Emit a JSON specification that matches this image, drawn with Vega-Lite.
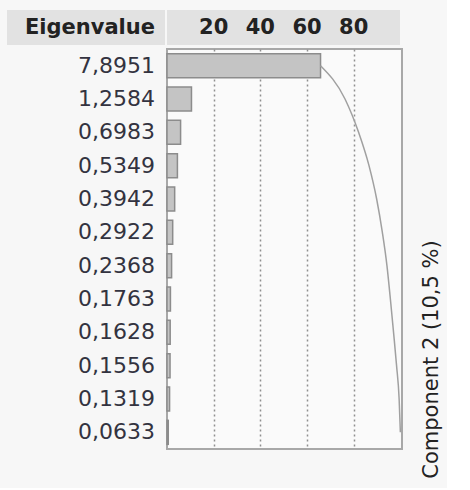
{
  "$schema": "https://vega.github.io/schema/vega-lite/v6.json",
  "background": "#f7f7f7",
  "padding": {"left": 7, "top": 10, "right": 5, "bottom": 5},
  "config": {"font": "DejaVu Sans", "view": {"stroke": null}},
  "datasets": {
    "eigen": [
      {"eigenvalue": "7,8951", "percent": 65.79, "cumPercent": 65.79},
      {"eigenvalue": "1,2584", "percent": 10.49, "cumPercent": 76.28},
      {"eigenvalue": "0,6983", "percent": 5.82, "cumPercent": 82.10},
      {"eigenvalue": "0,5349", "percent": 4.46, "cumPercent": 86.56},
      {"eigenvalue": "0,3942", "percent": 3.29, "cumPercent": 89.84},
      {"eigenvalue": "0,2922", "percent": 2.44, "cumPercent": 92.28},
      {"eigenvalue": "0,2368", "percent": 1.97, "cumPercent": 94.25},
      {"eigenvalue": "0,1763", "percent": 1.47, "cumPercent": 95.72},
      {"eigenvalue": "0,1628", "percent": 1.36, "cumPercent": 97.08},
      {"eigenvalue": "0,1556", "percent": 1.30, "cumPercent": 98.37},
      {"eigenvalue": "0,1319", "percent": 1.10, "cumPercent": 99.47},
      {"eigenvalue": "0,0633", "percent": 0.53, "cumPercent": 100.0}
    ],
    "percentTicks": [{"tick": 20}, {"tick": 40}, {"tick": 60}, {"tick": 80}]
  },
  "spacing": 3,
  "vconcat": [
    {
      "spacing": 2,
      "bounds": "flush",
      "hconcat": [
        {
          "width": 158,
          "height": 35,
          "view": {"fill": "#e2e2e2", "stroke": null},
          "data": {"values": [{"heading": "Eigenvalue"}]},
          "mark": {"type": "text", "fontWeight": "bold", "fontSize": 21, "align": "right", "baseline": "middle", "dx": -10, "color": "#222222"},
          "encoding": {
            "x": {"value": "width"},
            "text": {"field": "heading"}
          }
        },
        {
          "width": 233,
          "height": 35,
          "view": {"fill": "#e2e2e2", "stroke": null},
          "data": {"name": "percentTicks"},
          "mark": {"type": "text", "fontWeight": "bold", "fontSize": 21, "align": "center", "baseline": "middle", "color": "#222222"},
          "encoding": {
            "x": {"field": "tick", "type": "quantitative", "scale": {"domain": [0, 99.84], "nice": false, "zero": false}, "axis": null},
            "text": {"field": "tick"}
          }
        }
      ]
    },
    {
      "spacing": 2,
      "bounds": "flush",
      "hconcat": [
        {
          "width": 158,
          "height": 400,
          "data": {"name": "eigen"},
          "mark": {"type": "text", "fontSize": 22, "align": "right", "baseline": "middle", "dx": -10, "color": "#333340"},
          "encoding": {
            "x": {"value": "width"},
            "y": {"field": "eigenvalue", "type": "nominal", "sort": null, "scale": {"paddingInner": 0.28, "paddingOuter": 0.14}, "axis": null},
            "text": {"field": "eigenvalue"}
          }
        },
        {
          "width": 235,
          "height": 400,
          "view": {"fill": "#fafafa", "stroke": "#a8a8a8", "strokeWidth": 2},
          "data": {"name": "eigen"},
          "layer": [
            {
              "mark": {"type": "bar", "fill": "#c4c4c4", "stroke": "#8c8c8c", "strokeWidth": 1.5},
              "encoding": {
                "x": {
                  "field": "percent", "type": "quantitative",
                  "scale": {"domain": [0, 100.7], "nice": false},
                  "axis": {"orient": "top", "values": [20, 40, 60, 80], "labels": false, "ticks": false, "domain": false, "grid": true, "gridDash": [2, 3], "gridColor": "#8f8f8f", "gridWidth": 1.5, "title": null}
                },
                "y": {"field": "eigenvalue", "type": "nominal", "sort": null, "scale": {"paddingInner": 0.28, "paddingOuter": 0.14}, "axis": null}
              }
            },
            {
              "mark": {"type": "line", "color": "#a0a0a0", "strokeWidth": 1.5, "interpolate": "monotone"},
              "encoding": {
                "x": {"field": "cumPercent", "type": "quantitative"},
                "y": {
                  "field": "eigenvalue", "type": "nominal", "sort": null,
                  "axis": {
                    "orient": "right", "labels": false, "ticks": false, "domain": false, "grid": false,
                    "title": "Component 2  (10,5 %)", "titleAngle": 270, "titleX": 29, "titleY": 310,
                    "titleAlign": "center", "titleBaseline": "middle", "titleFontSize": 21,
                    "titleFontWeight": "normal", "titleColor": "#222222"
                  }
                },
                "order": {"field": "cumPercent", "type": "quantitative"}
              }
            }
          ],
          "resolve": {"axis": {"y": "independent"}}
        }
      ]
    }
  ]
}
